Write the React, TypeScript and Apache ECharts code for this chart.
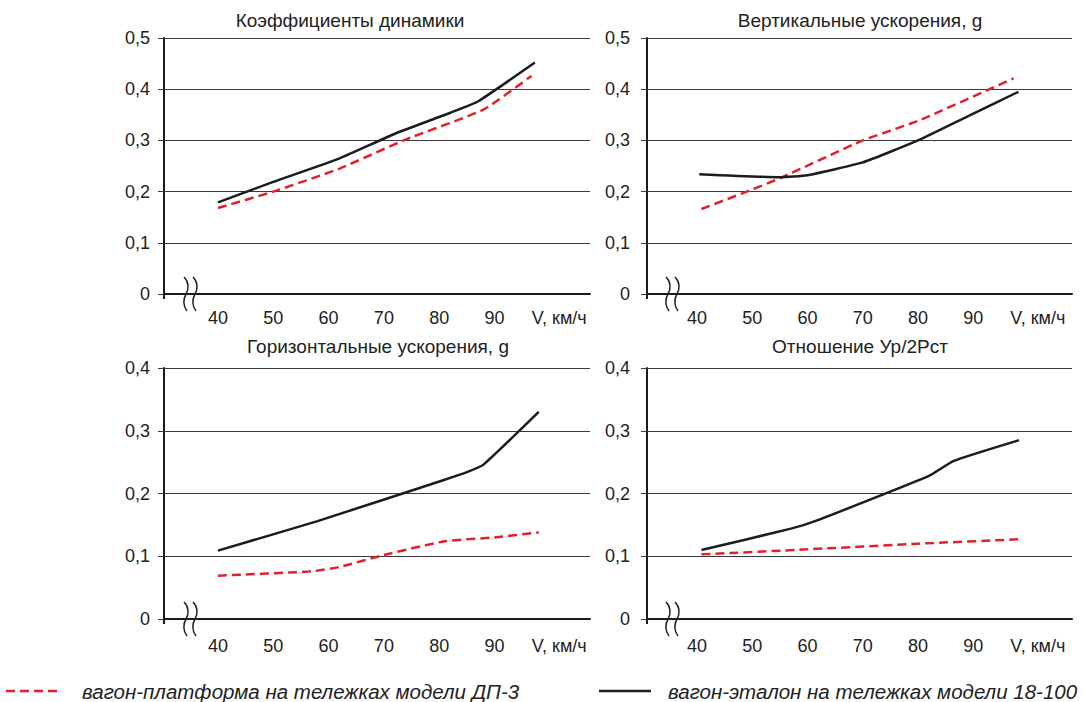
import React, { useEffect, useRef } from "react";
import * as echarts from "echarts";

// ---- data ----
const NAME_RED = "вагон-платформа на тележках модели ДП-3";
const NAME_BLACK = "вагон-эталон на тележках модели 18-100";

const PANEL_TITLES = [
  "Коэффициенты динамики",
  "Вертикальные ускорения, g",
  "Горизонтальные ускорения, g",
  "Отношение Ур/2Рст",
];

const SPEED_TICKS = [40, 50, 60, 70, 80, 90];
const SPEED_UNIT = "V, км/ч";
const SPEED_UNIT_AT = 101.7;

const Y_MAX = [0.5, 0.5, 0.4, 0.4];

// [V km/h, value]
const dynRed = [[40, 0.168], [50, 0.2], [62, 0.245], [74, 0.302], [88, 0.36], [96.7, 0.426]];
const dynBlack = [[40, 0.179], [50, 0.219], [62, 0.265], [72, 0.313], [82, 0.354], [87, 0.376], [97.3, 0.452]];

const vertRed = [[40.8, 0.166], [49, 0.2], [55, 0.226], [70, 0.3], [80, 0.338], [97.3, 0.421]];
const vertBlack = [[40.4, 0.234], [55, 0.228], [60, 0.232], [70, 0.257], [80, 0.3], [89, 0.347], [98.2, 0.395]];

const horRed = [[40, 0.069], [57, 0.076], [62, 0.083], [70, 0.102], [81, 0.124], [90, 0.13], [98, 0.138]];
const horBlack = [[40, 0.109], [58, 0.156], [81, 0.222], [85, 0.234], [88, 0.246], [98, 0.33]];

const ratRed = [[40.8, 0.103], [60, 0.111], [80, 0.12], [98.3, 0.127]];
const ratBlack = [[40.8, 0.11], [57, 0.144], [62, 0.158], [82, 0.228], [86.5, 0.252], [98.3, 0.285]];

const RED_SERIES = [dynRed, vertRed, horRed, ratRed];
const BLACK_SERIES = [dynBlack, vertBlack, horBlack, ratBlack];

// ---- layout / style ----
const FONT = "'Liberation Sans', Arial, Helvetica, sans-serif";
const RED = "#e3202a";
const BLACK = "#1c1c1c";
const GRID_COLOR = "#3a3a3a";
const DASH = [9, 5];

const GRIDS = [
  { left: 164, top: 38, width: 426, height: 256 },
  { left: 647, top: 38, width: 425, height: 256 },
  { left: 164, top: 368, width: 426, height: 251 },
  { left: 647, top: 368, width: 425, height: 251 },
];
const X_MIN = [30.24, 30.94, 30.24, 30.94];
const X_MAX = [107.27, 107.9, 107.27, 107.9];
const Y_LABEL_MARGIN = [14, 17, 14, 17];
const X_LABEL_MARGIN = [15, 15, 18, 18];
const TITLE_POS = [
  [350, 20],
  [860, 20],
  [378, 346],
  [860, 346],
];
const BREAK_POS = [
  [184, 277],
  [666, 277],
  [184, 602],
  [666, 602],
];
const LEGEND_Y = 691;

const BREAK_PATH =
  "M0,0 C5,5 5,12 2,17 C-1,22 -1,29 3,34 M9,0 C14,5 14,12 11,17 C8,22 8,29 12,34";

let registered = false;
function ensureShapes() {
  if (registered) return;
  echarts.graphic.registerShape("axisBreak", echarts.graphic.extendPath(BREAK_PATH, {}));
  registered = true;
}

function fmtY(v: number) {
  if (Math.abs(v) < 1e-9) return "0";
  return v.toFixed(1).replace(".", ",");
}

export default function App() {
  const ref = useRef<HTMLDivElement>(null);

  useEffect(() => {
    if (!ref.current) return;
    ensureShapes();
    const chart = echarts.init(ref.current, undefined, { renderer: "svg" });

    const xAxis = GRIDS.map((_, i) => ({
      gridIndex: i,
      type: "value",
      min: X_MIN[i],
      max: X_MAX[i],
      position: "bottom",
      axisLine: { show: true, onZero: false, lineStyle: { color: BLACK, width: 2 } },
      axisTick: {
        show: true,
        customValues: [X_MIN[i]],
        length: 5,
        lineStyle: { color: BLACK, width: 2 },
      },
      splitLine: { show: false },
      axisLabel: {
        customValues: [...SPEED_TICKS, SPEED_UNIT_AT],
        formatter: (v: number) => (Math.abs(v - SPEED_UNIT_AT) < 0.01 ? SPEED_UNIT : String(v)),
        margin: X_LABEL_MARGIN[i],
        color: "#222",
        fontSize: 18,
        fontFamily: FONT,
      },
    }));

    const yAxis = GRIDS.map((_, i) => ({
      gridIndex: i,
      type: "value",
      min: 0,
      max: Y_MAX[i],
      interval: 0.1,
      axisLine: { show: true, onZero: false, lineStyle: { color: BLACK, width: 2 } },
      axisTick: { show: true, length: 6, lineStyle: { color: GRID_COLOR, width: 1 } },
      splitLine: { show: true, lineStyle: { color: GRID_COLOR, width: 1 } },
      axisLabel: {
        margin: Y_LABEL_MARGIN[i],
        formatter: fmtY,
        color: "#222",
        fontSize: 18,
        fontFamily: FONT,
      },
    }));

    const series: any[] = [];
    GRIDS.forEach((_, i) => {
      series.push({
        name: NAME_RED,
        type: "line",
        xAxisIndex: i,
        yAxisIndex: i,
        data: RED_SERIES[i],
        symbol: "none",
        showSymbol: false,
        smooth: 0.15,
        lineStyle: { color: RED, width: 2.5, type: DASH },
        itemStyle: { color: RED },
        z: 3,
      });
      series.push({
        name: NAME_BLACK,
        type: "line",
        xAxisIndex: i,
        yAxisIndex: i,
        data: BLACK_SERIES[i],
        symbol: "none",
        showSymbol: false,
        smooth: 0.15,
        lineStyle: { color: BLACK, width: 2.5 },
        itemStyle: { color: BLACK },
        z: 4,
      });
    });

    const graphic: any[] = [];
    PANEL_TITLES.forEach((t, i) => {
      graphic.push({
        type: "text",
        x: TITLE_POS[i][0],
        y: TITLE_POS[i][1],
        style: {
          text: t,
          align: "center",
          verticalAlign: "middle",
          fill: "#222",
          fontSize: 19,
          fontFamily: FONT,
        },
      });
      graphic.push({
        type: "axisBreak",
        x: BREAK_POS[i][0],
        y: BREAK_POS[i][1],
        scaleX: 1,
        scaleY: 1,
        style: { stroke: "#222", fill: "none", lineWidth: 1.5 },
      });
    });

    // legend (drawn as graphic elements to match the plain line keys)
    const legendTextStyle = {
      fill: "#222",
      fontSize: 20.5,
      fontStyle: "italic",
      fontFamily: FONT,
      verticalAlign: "middle",
      align: "left",
    };
    graphic.push(
      {
        type: "line",
        shape: { x1: 6, y1: LEGEND_Y, x2: 58, y2: LEGEND_Y },
        style: { stroke: RED, lineWidth: 2.5, lineDash: DASH },
      },
      {
        type: "text",
        x: 82,
        y: LEGEND_Y,
        style: { ...legendTextStyle, text: NAME_RED },
      },
      {
        type: "line",
        shape: { x1: 599, y1: LEGEND_Y, x2: 651, y2: LEGEND_Y },
        style: { stroke: BLACK, lineWidth: 2.5 },
      },
      {
        type: "text",
        x: 668,
        y: LEGEND_Y,
        style: { ...legendTextStyle, text: NAME_BLACK },
      }
    );

    chart.setOption({
      animation: false,
      backgroundColor: "#ffffff",
      grid: GRIDS,
      xAxis,
      yAxis,
      series,
      graphic,
    });

    return () => chart.dispose();
  }, []);

  return (
    <div
      ref={ref}
      style={{ position: "absolute", left: 0, top: 0, width: 1086, height: 702 }}
    />
  );
}
